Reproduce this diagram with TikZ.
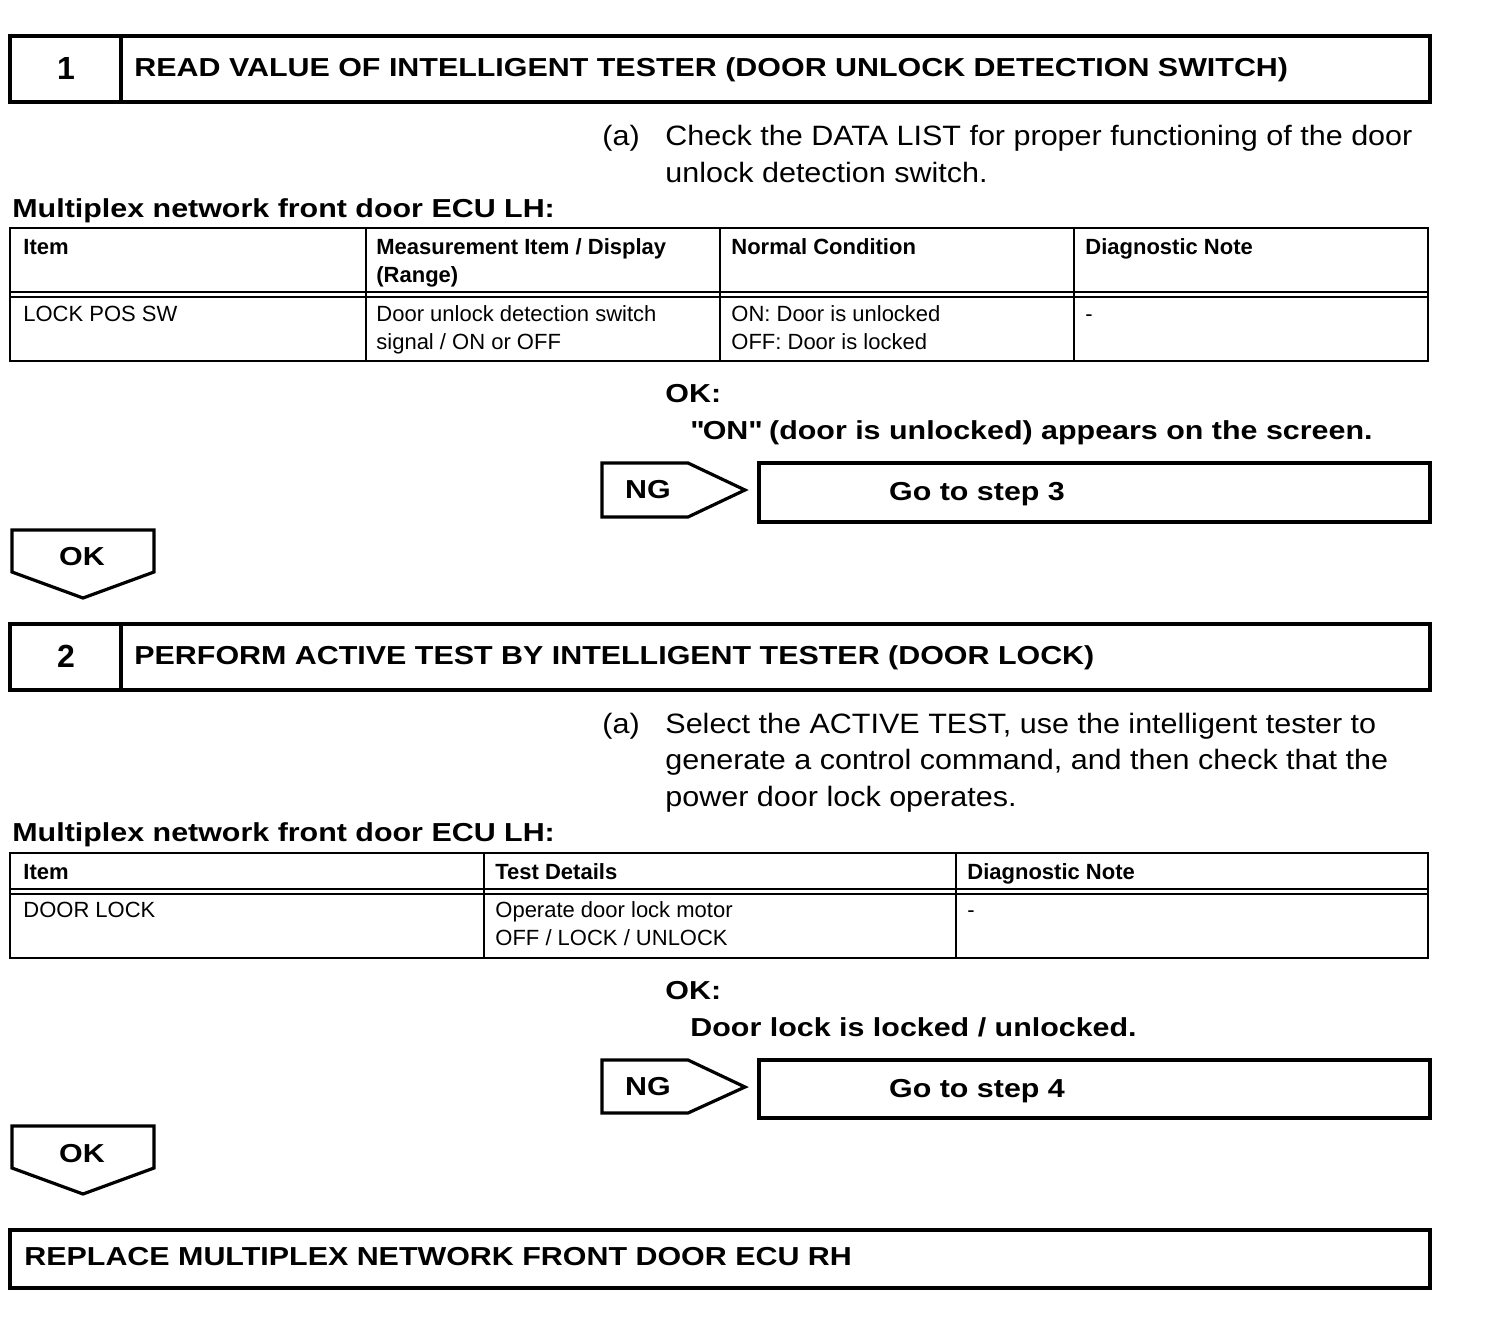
\documentclass[tikz,border=0pt]{standalone}
\usepackage{fontspec}
\setmainfont{Liberation Sans}
\newfontfamily\tswide[FakeStretch=1.17]{Liberation Sans}
\newfontfamily\tsmid[FakeStretch=1.09]{Liberation Sans}
\usetikzlibrary{positioning}
\definecolor{ink}{HTML}{000000}
\tikzset{
  every node/.style = {text=ink, inner sep=0pt},
  tsframe/.style  = {draw=ink, line width=1.6pt},
  tsgrid/.style   = {draw=ink, line width=1.2pt},
  tsrule/.style   = {draw=ink, line width=0.7pt},
  tsnum/.style    = {font=\fontsize{16}{18}\selectfont\bfseries, anchor=base},
  tshead/.style   = {font=\tswide\fontsize{13}{16}\selectfont\bfseries, anchor=base west},
  tsbody/.style   = {font=\tsmid\fontsize{14}{18.25}\selectfont, anchor=base west, align=left},
  tsok/.style     = {font=\tswide\fontsize{13}{18.5}\selectfont\bfseries, anchor=base west, align=left},
  tscell/.style   = {font=\fontsize{11}{14}\selectfont, anchor=base west, align=left},
  tscellh/.style  = {font=\fontsize{11}{14}\selectfont\bfseries, anchor=base west, align=left},
  tstag/.style    = {font=\tswide\fontsize{13}{16}\selectfont\bfseries, anchor=base},
}

\begin{document}
\begin{tikzpicture}[x=0.5pt, y=-0.5pt]
\useasboundingbox (0,0) rectangle (1504,1340);

% step 1
\draw[tsframe] (10,36) rectangle (1430,102);
\draw[tsframe] (121,36) -- (121,102);
\node[tsnum]  (n1) at (66,79) {1};
\node[tshead] (t1) at (134,76) {READ VALUE OF INTELLIGENT TESTER (DOOR UNLOCK DETECTION SWITCH)};

\node[tsbody] (a1) at (602,145) {(a)};
\node[tsbody] (c1) at (665,182) {Check the DATA LIST for proper functioning of the door\\unlock detection switch.};

\node[tshead] (e1) at (12,217) {Multiplex network front door ECU LH:};

% table 1
\draw[tsgrid] (10,228) rectangle (1428,361);
\draw[tsrule] (10,292) -- (1428,292);
\draw[tsrule] (10,297) -- (1428,297);
\draw[tsgrid] (366,228) -- (366,361);
\draw[tsgrid] (720,228) -- (720,361);
\draw[tsgrid] (1074,228) -- (1074,361);
\node[tscellh] (h11) at (23,254)   {Item};
\node[tscellh] (h12) at (376,282)  {Measurement Item / Display\\(Range)};
\node[tscellh] (h13) at (731,254)  {Normal Condition};
\node[tscellh] (h14) at (1085,254) {Diagnostic Note};
\node[tscell]  (r11) at (23,321)   {LOCK POS SW};
\node[tscell]  (r12) at (376,349)  {Door unlock detection switch\\signal / ON or OFF};
\node[tscell]  (r13) at (731,349)  {ON: Door is unlocked\\OFF: Door is locked};
\node[tscell]  (r14) at (1085,321) {-};

\node[tsok] (k1) at (665,439) {OK:\\\hspace*{12.5pt}\textquotedbl ON\textquotedbl{} (door is unlocked) appears on the screen.};

% NG branch 1
\draw[tsframe] (602,463) -- (688,463) -- (745,490) -- (688,517) -- (602,517) -- cycle;
\node[tstag] (ng1) at (648,498) {NG};
\draw[tsframe] (759,463) rectangle (1430,522);
\node[tstag] (g1) at (977,500) {Go to step 3};

% OK 1
\draw[tsframe] (12,530) -- (154,530) -- (154,572) -- (83,598) -- (12,572) -- cycle;
\node[tstag] (ok1) at (82,565) {OK};

% step 2
\draw[tsframe] (10,624) rectangle (1430,690);
\draw[tsframe] (121,624) -- (121,690);
\node[tsnum]  (n2) at (66,667) {2};
\node[tshead] (t2) at (134,664) {PERFORM ACTIVE TEST BY INTELLIGENT TESTER (DOOR LOCK)};

\node[tsbody] (a2) at (602,733) {(a)};
\node[tsbody] (c2) at (665,806) {Select the ACTIVE TEST, use the intelligent tester to\\generate a control command, and then check that the\\power door lock operates.};

\node[tshead] (e2) at (12,841) {Multiplex network front door ECU LH:};

% table 2
\draw[tsgrid] (10,853) rectangle (1428,958);
\draw[tsrule] (10,889) -- (1428,889);
\draw[tsrule] (10,894) -- (1428,894);
\draw[tsgrid] (484,853) -- (484,958);
\draw[tsgrid] (956,853) -- (956,958);
\node[tscellh] (h21) at (23,879)  {Item};
\node[tscellh] (h22) at (495,879) {Test Details};
\node[tscellh] (h23) at (967,879) {Diagnostic Note};
\node[tscell]  (r21) at (23,917)  {DOOR LOCK};
\node[tscell]  (r22) at (495,945) {Operate door lock motor\\OFF / LOCK / UNLOCK};
\node[tscell]  (r23) at (967,917) {-};

\node[tsok] (k2) at (665,1036) {OK:\\\hspace*{12.5pt}Door lock is locked / unlocked.};

% NG branch 2
\draw[tsframe] (602,1060) -- (688,1060) -- (745,1087) -- (688,1113) -- (602,1113) -- cycle;
\node[tstag] (ng2) at (648,1095) {NG};
\draw[tsframe] (759,1060) rectangle (1430,1118);
\node[tstag] (g2) at (977,1097) {Go to step 4};

% OK 2
\draw[tsframe] (12,1126) -- (154,1126) -- (154,1168) -- (83,1194) -- (12,1168) -- cycle;
\node[tstag] (ok2) at (82,1162) {OK};

% final step
\draw[tsframe] (10,1230) rectangle (1430,1288);
\node[tshead] (fin) at (24,1265) {REPLACE MULTIPLEX NETWORK FRONT DOOR ECU RH};
\end{tikzpicture}
\end{document}
